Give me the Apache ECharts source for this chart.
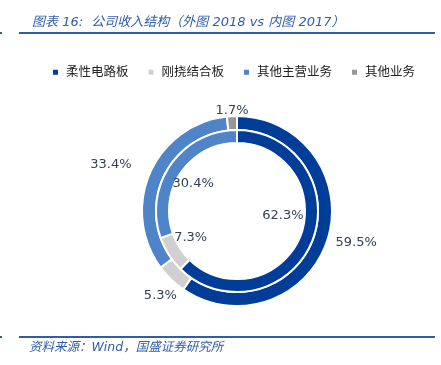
<!DOCTYPE html>
<html>
<head>
<meta charset="utf-8">
<script src="https://cdn.jsdelivr.net/npm/echarts@6/dist/echarts.min.js"></script>
<style>
  html, body { margin: 0; padding: 0; background: #fff; }
  #pie-container { width: 441px; height: 365px; }
</style>
</head>
<body>
<div id="pie-container"></div>
<script>
var categories = ['柔性电路板', '刚挠结合板', '其他主营业务', '其他业务'];
var values2018 = [59.5, 5.3, 33.4, 1.7];
var values2017 = [62.3, 7.3, 30.4, 0];
var colors = ['#003D99', '#D0D0D0', '#4F84C9', '#979797'];

var dom = document.getElementById('pie-container');
var myChart = echarts.init(dom, null, { renderer: 'canvas' });

var labelColor = '#333F58';
var font = '"DejaVu Sans", "Noto Sans CJK SC", sans-serif';

function toData(vals) {
  return vals.map(function (v, i) {
    return { value: v, name: categories[i] };
  });
}

var option = {
  color: colors,
  animation: false,
  title: {
    text: '图表 16:  公司收入结构（外图 2018 vs 内图 2017）',
    left: 27,
    top: 11,
    textStyle: {
      fontSize: 13,
      fontWeight: 'normal',
      fontStyle: 'italic',
      color: '#2F5DA8',
      fontFamily: font
    }
  },
  legend: {
    data: categories,
    top: 61,
    left: 46,
    itemWidth: 7,
    itemHeight: 7,
    itemGap: 18,
    icon: 'rect',
    textStyle: { fontSize: 12.5, color: '#222', fontFamily: font, padding: [0, 0, 0, 2] }
  },
  graphic: [
    { type: 'rect', shape: { x: 19, y: 32, width: 416, height: 2 }, style: { fill: '#2F5DA8' } },
    { type: 'rect', shape: { x: 0, y: 32, width: 2, height: 2 }, style: { fill: '#2F5DA8' } },
    { type: 'rect', shape: { x: 19, y: 336, width: 416, height: 2 }, style: { fill: '#2F5DA8' } },
    { type: 'rect', shape: { x: 0, y: 336, width: 2, height: 2 }, style: { fill: '#2F5DA8' } },
    {
      type: 'text', left: 29, top: 341,
      style: {
        text: '资料来源：Wind，国盛证券研究所',
        font: 'italic 12.5px ' + font,
        fill: '#2F5DA8'
      }
    }
  ],
  series: [
    {
      name: '2018',
      type: 'pie',
      center: [237, 211],
      radius: [81, 95],
      startAngle: 90,
      clockwise: true,
      data: toData(values2018),
      itemStyle: { borderColor: '#fff', borderWidth: 2 },
      label: {
        show: true,
        position: 'outside',
        formatter: '{c}%',
        fontSize: 13,
        color: labelColor,
        fontFamily: font
      },
      labelLine: { show: false, length: 6, length2: 0 },
      labelLayout: function (p) {
        if (p.dataIndex === 0) return { dx: -3, dy: 2 };
        if (p.dataIndex === 1) return { dx: 15, dy: 12 };
        if (p.dataIndex === 2) return { dx: -8, dy: -6 };
        if (p.dataIndex === 3) return { dx: 22, dy: 0 };
      },
      emphasis: { disabled: true }
    },
    {
      name: '2017',
      type: 'pie',
      center: [237, 211],
      radius: [68, 81],
      startAngle: 90,
      clockwise: true,
      data: toData(values2017),
      itemStyle: { borderColor: '#fff', borderWidth: 2 },
      label: { show: false },
      emphasis: { disabled: true },
      silent: true
    },
    {
      name: '2017 labels',
      type: 'pie',
      center: [237, 211],
      radius: [0, 104],
      startAngle: 90,
      clockwise: true,
      data: toData(values2017),
      itemStyle: { color: 'rgba(0,0,0,0)' },
      label: {
        show: true,
        position: 'inside',
        formatter: function (p) { return p.value > 0 ? p.value + '%' : ''; },
        fontSize: 13,
        color: labelColor,
        fontFamily: font
      },
      labelLayout: function (p) {
        if (p.dataIndex === 0) return { dx: -5, dy: -16 };
        if (p.dataIndex === 2) return { dx: 1, dy: 4 };
        if (p.dataIndex === 1) return { dy: -3 };
      },
      legendHoverLink: false,
      silent: true,
      emphasis: { disabled: true }
    }
  ]
};

myChart.setOption(option);
window.addEventListener('resize', myChart.resize);
</script>
</body>
</html>
